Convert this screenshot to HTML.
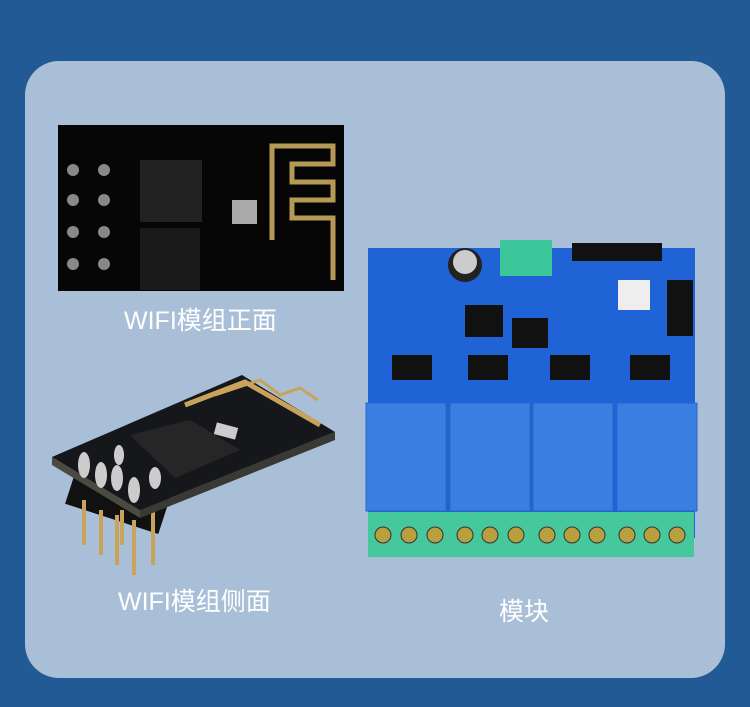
<!DOCTYPE html>
<html><head><meta charset="utf-8"><style>
html,body{margin:0;padding:0;width:750px;height:707px;overflow:hidden;background:#215a94}
.lbl{position:absolute;color:#fff;font-family:"Liberation Sans","Noto Sans CJK SC",sans-serif;font-size:25px;white-space:nowrap}
</style></head><body>
<svg width="750" height="707" style="position:absolute;left:0;top:0">
<rect x="25" y="61" width="700" height="617" rx="34" fill="#a9bfd8"/>
<!-- front module -->
<rect x="58" y="125" width="286" height="166" fill="#060606"/>
<g fill="none" stroke="#b59a55" stroke-width="5">
<path d="M272 240 V146 H333 V164 H292 V182 H333 V200 H292 V218 H333 V280"/>
</g>
<rect x="140" y="160" width="62" height="62" fill="#222"/>
<rect x="140" y="228" width="60" height="62" fill="#1a1a1a"/>
<rect x="232" y="200" width="25" height="24" fill="#aaa"/>
<g fill="#888"><circle cx="73" cy="170" r="6"/><circle cx="73" cy="200" r="6"/><circle cx="73" cy="232" r="6"/><circle cx="73" cy="264" r="6"/>
<circle cx="104" cy="170" r="6"/><circle cx="104" cy="200" r="6"/><circle cx="104" cy="232" r="6"/><circle cx="104" cy="264" r="6"/></g>
<!-- side module -->
<rect x="72" y="465" width="98" height="55" fill="#111" transform="rotate(18 120 490)"/>
<g stroke="#c9a35a" stroke-width="4"><line x1="84" y1="500" x2="84" y2="545"/><line x1="101" y1="510" x2="101" y2="555"/><line x1="117" y1="515" x2="117" y2="565"/><line x1="134" y1="520" x2="134" y2="575"/><line x1="153" y1="510" x2="153" y2="565"/><line x1="122" y1="510" x2="122" y2="545"/></g>
<polygon points="52,457 140,510 140,518 52,465" fill="#4a4a40"/>
<polygon points="140,510 335,432 335,440 140,518" fill="#3a3a34"/>
<polygon points="52,457 242,375 335,432 140,510" fill="#15171a"/>
<path d="M185 405 L245 382 L320 425" stroke="#c9a35a" stroke-width="5" fill="none"/>
<path d="M215 395 L260 380 L280 395 L300 388 L318 400" stroke="#c9a35a" stroke-width="3" fill="none"/>
<polygon points="130,435 190,420 240,450 175,478" fill="#262626"/>
<rect x="215" y="425" width="22" height="12" fill="#ccc" transform="rotate(15 226 431)"/>
<g fill="#ccc"><ellipse cx="84" cy="465" rx="6" ry="13"/><ellipse cx="101" cy="475" rx="6" ry="13"/><ellipse cx="117" cy="478" rx="6" ry="13"/><ellipse cx="134" cy="490" rx="6" ry="13"/><ellipse cx="155" cy="478" rx="6" ry="11"/><ellipse cx="119" cy="455" rx="5" ry="10"/></g>
<!-- relay board -->
<rect x="368" y="248" width="327" height="290" fill="#1f63d6"/>
<rect x="500" y="240" width="52" height="36" fill="#3cc79a"/>
<circle cx="465" cy="265" r="17" fill="#222"/><circle cx="465" cy="262" r="12" fill="#ccc"/>
<rect x="572" y="243" width="90" height="18" fill="#111"/>
<rect x="667" y="280" width="26" height="56" fill="#111"/>
<rect x="618" y="280" width="32" height="30" fill="#eee"/>
<rect x="465" y="305" width="38" height="32" fill="#111"/>
<rect x="512" y="318" width="36" height="30" fill="#111"/>
<g fill="#111"><rect x="392" y="355" width="40" height="25"/><rect x="468" y="355" width="40" height="25"/><rect x="550" y="355" width="40" height="25"/><rect x="630" y="355" width="40" height="25"/></g>
<g fill="#3b7ee2" stroke="#2a66c8"><rect x="366" y="403" width="80" height="108"/><rect x="450" y="403" width="80" height="108"/><rect x="533" y="403" width="80" height="108"/><rect x="617" y="403" width="80" height="108"/></g>
<rect x="368" y="512" width="326" height="45" fill="#45c99c"/>
<g fill="#b8a040" stroke="#333"><circle cx="383" cy="535" r="8"/><circle cx="409" cy="535" r="8"/><circle cx="435" cy="535" r="8"/><circle cx="465" cy="535" r="8"/><circle cx="490" cy="535" r="8"/><circle cx="516" cy="535" r="8"/><circle cx="547" cy="535" r="8"/><circle cx="572" cy="535" r="8"/><circle cx="597" cy="535" r="8"/><circle cx="627" cy="535" r="8"/><circle cx="652" cy="535" r="8"/><circle cx="677" cy="535" r="8"/></g>
</svg>
<div class="lbl" style="left:124px;top:301px">WIFI模组正面</div>
<div class="lbl" style="left:118px;top:582px">WIFI模组侧面</div>
<div class="lbl" style="left:499px;top:592px">模块</div>
</body></html>
